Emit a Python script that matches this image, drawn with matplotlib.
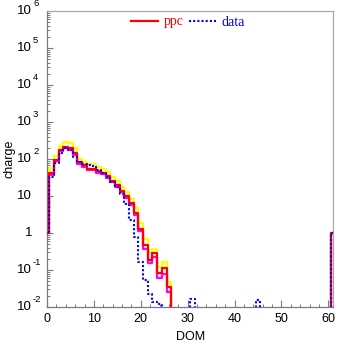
import numpy as np
import matplotlib
matplotlib.use('Agg')
import matplotlib.pyplot as plt
from matplotlib.lines import Line2D
from matplotlib.ticker import FixedLocator, NullFormatter, LogLocator, MultipleLocator
import matplotlib.transforms as mtrans

# ---------------- data ----------------
dom = np.arange(0, 62)

ppc = [1, 41, 94, 170, 215, 195, 142, 82, 67, 55, 54, 46, 43, 34, 26, 20, 14, 10,
       6.5, 3.5, 1.3, 0.47, 0.19, 0.28, 0.081, 0.11, 0.034] + [0] * 34 + [1]
ppc_hi = [1, 57, 123, 225, 294, 265, 195, 100, 85, 73, 73, 60, 55, 44, 33, 26, 18, 13,
          8.5, 4.7, 1.9, 0.7, 0.3, 0.37, 0.12, 0.165, 0.047] + [0] * 34 + [1]
ppc_lo = [1, 38, 88, 160, 200, 180, 130, 72, 60, 50, 50, 42, 39, 31, 24, 18, 12.5, 9,
          5.8, 3.0, 1.1, 0.38, 0.15, 0.22, 0.062, 0.08, 0.025] + [0] * 34 + [1]
data = ([1, 33, 76, 142, 200, 175, 115, 82, 72, 68, 63, 52, 43, 33, 24, 17, 11, 6,
         2.3, 0.8, 0.16, 0.054, 0.022, 0.014, 0.012]
        + [0] * 6 + [0.016] + [0] * 13 + [0.015] + [0] * 15 + [1])

ytick_exps = [6, 5, 4, 3, 2, 1, 0, -1, -2]
xticks = [0, 10, 20, 30, 40, 50, 60]

# ---------------- figure ----------------
W, H = 337, 344
fig = plt.figure(figsize=(W / 100, H / 100), dpi=100)
L, R, T, B = 47, 333, 11, 307
ax = fig.add_axes([L / W, 1 - B / H, (R - L) / W, (B - T) / H])

edges = np.append(dom - 0.5, dom[-1] + 0.5)

def stairs(vals, **kw):
    v = np.asarray(vals, dtype=float)
    y = np.clip(np.append(v, v[-1]), 1e-6, None)
    return ax.step(edges, y, where='post', **kw)

stairs(ppc_hi, color='#ffff00', lw=1.6, zorder=2)
stairs(ppc_lo, color='#ff00ff', lw=1.6, zorder=3)
stairs(ppc, color='#ff0000', lw=1.6, zorder=4)
stairs(data, color='#0000ff', lw=1.5, ls=(0, (1, 1)), zorder=5)

ax.set_yscale('log')
ax.set_ylim(1e-2, 1e6)
ax.set_xlim(0, 61)

# spines
for s in ['left', 'bottom']:
    ax.spines[s].set_color('#7a7a7a')
    ax.spines[s].set_linewidth(0.9)
for s in ['top', 'right']:
    ax.spines[s].set_color('#a8a8a8')
    ax.spines[s].set_linewidth(0.9)

# ticks
ax.yaxis.set_major_locator(FixedLocator([10.0 ** e for e in ytick_exps]))
ax.yaxis.set_minor_locator(LogLocator(base=10, subs=np.arange(2, 10), numticks=20))
ax.yaxis.set_major_formatter(NullFormatter())
ax.yaxis.set_minor_formatter(NullFormatter())
ax.tick_params(axis='y', which='major', direction='in', length=4.5, width=0.8, color='#7a7a7a',
               right=False, left=True)
ax.tick_params(axis='y', which='minor', direction='in', length=2.5, width=0.7, color='#7a7a7a',
               right=False, left=True)

ax.xaxis.set_major_locator(FixedLocator(xticks))
ax.xaxis.set_minor_locator(MultipleLocator(2))
ax.set_xticklabels([str(t) for t in xticks], fontsize=9, family='Liberation Sans')
ax.tick_params(axis='x', which='major', direction='in', length=5, width=0.8, color='#7a7a7a',
               top=False, pad=4.5)
ax.tick_params(axis='x', which='minor', direction='in', length=2.5, width=0.7, color='#7a7a7a',
               top=False)

# y tick labels drawn as base + superscript
trans = mtrans.blended_transform_factory(ax.transAxes, ax.transData)
exp_off = mtrans.ScaledTranslation(0, 3.0 / 100, fig.dpi_scale_trans)
xb = (32 - L) / (R - L)
xe = (33 - L) / (R - L)
for e in ytick_exps:
    val = 10.0 ** e
    if e == 0:
        ax.text(xb, val, '1', ha='right', va='center', fontsize=9.5,
                family='Liberation Sans', transform=trans)
    elif e == 1:
        ax.text(xb, val, '10', ha='right', va='center', fontsize=9.5,
                family='Liberation Sans', transform=trans)
    else:
        ax.text(xb, val, '10', ha='right', va='center', fontsize=9.5,
                family='Liberation Sans', transform=trans)
        ax.text(xe, val, str(e).replace('\u2212', '-'), ha='left', va='bottom', fontsize=6.8,
                family='Liberation Sans', transform=trans + exp_off)

fig.text(9 / W, 1 - 159 / H, 'charge', rotation=90, ha='center', va='center',
         fontsize=9, family='Liberation Sans')
fig.text(191 / W, 1 - 337.5 / H, 'DOM', ha='center', va='center',
         fontsize=9, family='Liberation Sans')

# legend
handles = [Line2D([], [], color='#ff0000', lw=1.6),
           Line2D([], [], color='#0000ff', lw=1.5, ls=(0, (1, 1)))]
leg = ax.legend(handles, ['ppc', 'data'], ncol=2, frameon=False,
                loc='center', bbox_to_anchor=((188 - L) / (R - L), 1 - (22 - T) / (B - T)),
                prop={'family': 'Liberation Serif', 'size': 10},
                handlelength=1.95, handletextpad=0.4, columnspacing=0.4,
                borderpad=0, borderaxespad=0)
for txt, c in zip(leg.get_texts(), ['#ff0000', '#0000ff']):
    txt.set_color(c)

fig.savefig('out.png', dpi=100)
